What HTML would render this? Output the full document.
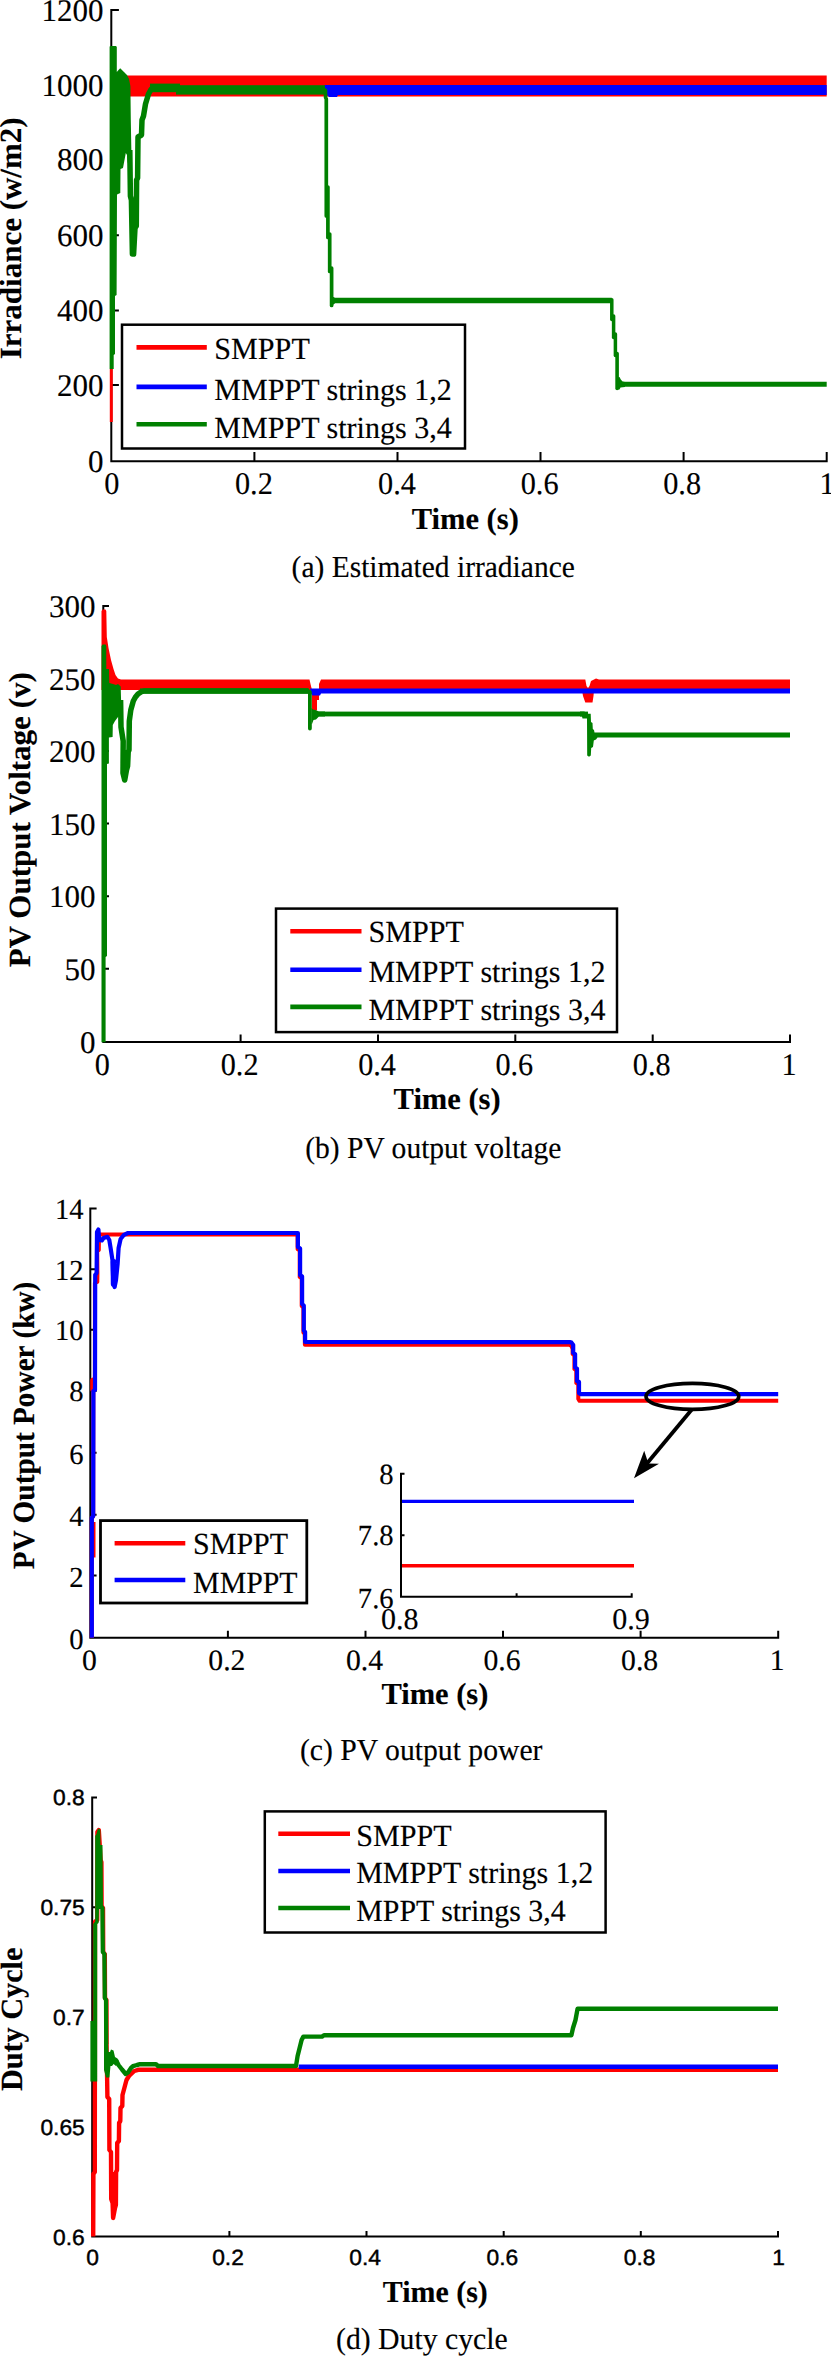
<!DOCTYPE html>
<html lang="en">
<head>
<meta charset="utf-8">
<title>MPPT simulation results</title>
<style>
html,body{margin:0;padding:0;background:#fff;}
svg{display:block;}
text{fill:#000;text-rendering:geometricPrecision;}
</style>
</head>
<body>
<svg width="831" height="2356" viewBox="0 0 831 2356">
<rect x="0" y="0" width="831" height="2356" fill="#fff"/>
<path d="M111.3,9.0 V461.3 H827.7 M254.4,461.3 v-9.2 M397.5,461.3 v-9.2 M540.5,461.3 v-9.2 M683.6,461.3 v-9.2 M826.7,461.3 v-9.2 M111.3,10.0 h7.6 M111.3,85.0 h7.6 M111.3,160.1 h7.6 M111.3,235.3 h7.6 M111.3,310.4 h7.6 M111.3,384.9 h7.6" fill="none" stroke="#000" stroke-width="2"/>
<polygon points="114.0,85.0 114.0,76.0 120.0,75.5 826.7,75.5 826.7,96.5 130.0,96.5 130.0,85.0" fill="#ff0000"/>
<rect x="109.8" y="369.0" width="3.0" height="53.0" fill="#ff0000"/>
<polygon points="324.5,85.0 826.7,85.0 826.7,95.0 338.0,95.0 337.0,97.0 329.0,97.0 327.0,95.0 324.5,95.0" fill="#0000ff"/>
<polygon points="109.6,369.0 109.6,46.5 111.0,45.9 116.0,45.9 116.8,47.0 116.8,72.0 118.5,70.0 120.2,68.2 124.0,72.0 127.0,75.0 129.0,79.0 130.4,86.0 130.8,120.0 131.5,158.0 129.5,160.0 127.7,163.0 127.0,155.0 125.8,153.0 123.0,168.0 120.5,169.0 120.3,193.0 117.0,194.5 116.6,295.0 115.0,296.0 115.0,354.0 113.7,355.0 113.7,369.0" fill="#008000"/>
<polyline points="129.8,150.0 130.4,196.0 131.4,200.0 132.4,254.0 133.6,254.0 135.0,228.0 136.3,226.0 136.6,180.0 137.6,178.0 138.0,137.0 141.5,135.0 142.0,120.0 143.5,116.0 145.5,104.0 148.5,94.0 151.0,89.5 154.0,88.0 175.0,88.0 178.0,89.8 324.5,89.8" fill="none" stroke="#008000" stroke-width="5.5" stroke-linejoin="round" stroke-linecap="butt"/>
<rect x="150.0" y="83.6" width="30.0" height="8.6" fill="#008000"/>
<rect x="176.0" y="85.2" width="149.0" height="9.4" fill="#008000"/>
<polyline points="325.4,90.0 325.6,97.5 326.3,99.0 326.3,216.0" fill="none" stroke="#008000" stroke-width="3.7" stroke-linejoin="round" stroke-linecap="round"/>
<polyline points="327.9,187.0 327.9,237.5" fill="none" stroke="#008000" stroke-width="3.7" stroke-linejoin="round" stroke-linecap="round"/>
<polyline points="329.7,234.0 329.7,271.5" fill="none" stroke="#008000" stroke-width="3.7" stroke-linejoin="round" stroke-linecap="round"/>
<polyline points="331.6,268.0 331.6,305.5" fill="none" stroke="#008000" stroke-width="3.7" stroke-linejoin="round" stroke-linecap="round"/>
<polyline points="331.6,300.6 611.8,300.6" fill="none" stroke="#008000" stroke-width="5.5" stroke-linejoin="round" stroke-linecap="butt"/>
<polygon points="331.0,297.0 333.5,297.0 335.0,298.0 335.0,303.3 333.5,304.5 331.0,305.5" fill="#008000"/>
<polyline points="611.8,299.8 611.8,319.5" fill="none" stroke="#008000" stroke-width="3.5" stroke-linejoin="round" stroke-linecap="round"/>
<polyline points="613.6,316.0 613.6,337.5" fill="none" stroke="#008000" stroke-width="3.5" stroke-linejoin="round" stroke-linecap="round"/>
<polyline points="615.4,334.0 615.4,355.5" fill="none" stroke="#008000" stroke-width="3.5" stroke-linejoin="round" stroke-linecap="round"/>
<polyline points="617.1,353.5 617.1,388.5" fill="none" stroke="#008000" stroke-width="3.6" stroke-linejoin="round" stroke-linecap="round"/>
<polyline points="617.1,384.3 826.7,384.3" fill="none" stroke="#008000" stroke-width="5.0" stroke-linejoin="round" stroke-linecap="butt"/>
<polygon points="617.0,377.5 619.5,377.0 620.8,379.5 622.5,381.5 625.0,382.0 625.0,387.0 620.5,387.5 619.5,389.5 617.0,389.5" fill="#008000"/>
<text transform="translate(103.4 21.4) scale(1 1.015)" font-size="31" text-anchor="end" font-family='"Liberation Serif", serif' stroke="#000" stroke-width="0.15">1200</text>
<text transform="translate(103.4 96.0) scale(1 1.015)" font-size="31" text-anchor="end" font-family='"Liberation Serif", serif' stroke="#000" stroke-width="0.15">1000</text>
<text transform="translate(103.4 170.1) scale(1 1.015)" font-size="31" text-anchor="end" font-family='"Liberation Serif", serif' stroke="#000" stroke-width="0.15">800</text>
<text transform="translate(103.4 246.2) scale(1 1.015)" font-size="31" text-anchor="end" font-family='"Liberation Serif", serif' stroke="#000" stroke-width="0.15">600</text>
<text transform="translate(103.4 321.1) scale(1 1.015)" font-size="31" text-anchor="end" font-family='"Liberation Serif", serif' stroke="#000" stroke-width="0.15">400</text>
<text transform="translate(103.4 396.2) scale(1 1.015)" font-size="31" text-anchor="end" font-family='"Liberation Serif", serif' stroke="#000" stroke-width="0.15">200</text>
<text transform="translate(103.4 472.0) scale(1 1.015)" font-size="31" text-anchor="end" font-family='"Liberation Serif", serif' stroke="#000" stroke-width="0.15">0</text>
<text transform="translate(111.8 494.4) scale(1 1.040)" font-size="30.3" text-anchor="middle" font-family='"Liberation Serif", serif' stroke="#000" stroke-width="0.15">0</text>
<text transform="translate(253.9 494.4) scale(1 1.040)" font-size="30.3" text-anchor="middle" font-family='"Liberation Serif", serif' stroke="#000" stroke-width="0.15">0.2</text>
<text transform="translate(397.0 494.4) scale(1 1.040)" font-size="30.3" text-anchor="middle" font-family='"Liberation Serif", serif' stroke="#000" stroke-width="0.15">0.4</text>
<text transform="translate(539.6 494.4) scale(1 1.040)" font-size="30.3" text-anchor="middle" font-family='"Liberation Serif", serif' stroke="#000" stroke-width="0.15">0.6</text>
<text transform="translate(682.1 494.4) scale(1 1.040)" font-size="30.3" text-anchor="middle" font-family='"Liberation Serif", serif' stroke="#000" stroke-width="0.15">0.8</text>
<text transform="translate(827.2 494.4) scale(1 1.040)" font-size="30.3" text-anchor="middle" font-family='"Liberation Serif", serif' stroke="#000" stroke-width="0.15">1</text>
<text transform="translate(21.3 359.2) rotate(-90)" font-size="30.8" text-anchor="start" font-weight="bold" font-family='"Liberation Serif", serif' stroke="#000" stroke-width="0.15" textLength="241.8" lengthAdjust="spacingAndGlyphs">Irradiance (w/m2)</text>
<text transform="translate(411.8 529.0)" font-size="30.6" text-anchor="start" font-weight="bold" font-family='"Liberation Serif", serif' stroke="#000" stroke-width="0.15" textLength="107.0" lengthAdjust="spacingAndGlyphs">Time (s)</text>
<text transform="translate(291.6 577.0) scale(1 1.040)" font-size="29.4" text-anchor="start" font-family='"Liberation Serif", serif' stroke="#000" stroke-width="0.15" textLength="283.2" lengthAdjust="spacingAndGlyphs">(a) Estimated irradiance</text>
<rect x="122.0" y="324.7" width="343.0" height="123.8" fill="#fff" stroke="#000" stroke-width="2.5"/>
<polyline points="136.5,347.4 206.8,347.4" fill="none" stroke="#ff0000" stroke-width="4.6" stroke-linejoin="round" stroke-linecap="butt"/>
<text transform="translate(214.3 359.0) scale(1 1.040)" font-size="29.5" text-anchor="start" font-family='"Liberation Serif", serif' stroke="#000" stroke-width="0.15" textLength="95.5" lengthAdjust="spacingAndGlyphs">SMPPT</text>
<polyline points="136.5,386.9 206.8,386.9" fill="none" stroke="#0000ff" stroke-width="4.6" stroke-linejoin="round" stroke-linecap="butt"/>
<text transform="translate(214.3 399.6) scale(1 1.040)" font-size="29.5" text-anchor="start" font-family='"Liberation Serif", serif' stroke="#000" stroke-width="0.15" textLength="237.5" lengthAdjust="spacingAndGlyphs">MMPPT strings 1,2</text>
<polyline points="136.5,424.2 206.8,424.2" fill="none" stroke="#008000" stroke-width="4.6" stroke-linejoin="round" stroke-linecap="butt"/>
<text transform="translate(214.3 438.0) scale(1 1.040)" font-size="29.5" text-anchor="start" font-family='"Liberation Serif", serif' stroke="#000" stroke-width="0.15" textLength="237.5" lengthAdjust="spacingAndGlyphs">MMPPT strings 3,4</text>
<path d="M103.3,605.0 V1042.1 H791.0 M240.6,1042.1 v-7.6 M378.0,1042.1 v-7.6 M515.3,1042.1 v-7.6 M652.7,1042.1 v-7.6 M790.0,1042.1 v-7.6 M103.3,606.0 h5.7 M103.3,678.5 h5.7 M103.3,751.1 h5.7 M103.3,823.6 h5.7 M103.3,896.2 h5.7 M103.3,968.7 h5.7" fill="none" stroke="#000" stroke-width="2"/>
<polygon points="101.5,690.0 101.5,611.0 102.5,609.6 105.5,609.6 106.3,611.0 106.8,637.0 108.5,648.0 111.0,660.0 113.5,669.0 115.5,675.0 118.0,678.5 121.0,679.6 309.5,679.6 310.5,684.0 312.0,690.0 312.0,710.5 317.0,710.5 317.0,700.0 319.0,700.0 319.0,684.0 321.0,679.6 585.3,679.6 586.5,686.0 588.0,688.0 589.5,686.0 591.0,681.0 594.0,679.6 596.0,678.6 599.0,679.6 790.0,679.6 790.0,690.0 594.0,690.0 593.5,696.0 592.5,702.6 585.3,702.6 583.0,696.0 582.0,690.0" fill="#ff0000"/>
<polygon points="310.2,688.5 790.0,688.5 790.0,693.6 321.0,693.6 320.0,695.4 312.5,695.4 310.2,693.0" fill="#0000ff"/>
<polygon points="101.5,1042.3 101.5,646.0 102.5,644.6 105.5,644.6 106.3,646.0 106.3,669.0 109.0,669.0 109.3,683.0 113.0,684.0 116.0,685.0 118.0,684.0 120.7,686.5 121.5,716.0 119.5,716.0 118.0,717.0 115.0,721.0 112.8,725.0 112.6,737.0 108.9,737.5 108.9,763.5 107.0,764.0 107.0,956.0 105.6,957.0 105.6,1042.3" fill="#008000"/>
<polyline points="120.6,700.0 121.0,727.0 123.2,741.0 123.0,773.0 124.7,780.0 126.5,770.0 127.6,766.0 128.2,752.0 129.0,750.0 129.3,721.0 130.8,710.0 133.3,701.0 135.5,697.0 138.0,694.0 141.0,692.0 144.0,691.0 308.0,691.0" fill="none" stroke="#008000" stroke-width="5.5" stroke-linejoin="round" stroke-linecap="butt"/>
<rect x="140.0" y="688.4" width="169.0" height="5.2" fill="#008000"/>
<polyline points="308.0,691.0 309.9,692.0 309.9,728.5" fill="none" stroke="#008000" stroke-width="3.8" stroke-linejoin="round" stroke-linecap="round"/>
<polygon points="311.5,708.0 313.0,709.5 315.5,710.0 318.9,711.6 325.0,711.6 325.0,716.4 318.9,716.4 316.0,719.5 313.5,720.0 312.0,724.0 311.5,724.0" fill="#008000"/>
<rect x="318.0" y="711.6" width="270.0" height="4.8" fill="#008000"/>
<polygon points="584.5,711.6 586.0,713.8 590.7,713.8 591.0,722.0 592.5,723.0 592.8,729.0 594.0,730.0 594.5,732.6 790.0,732.6 790.0,737.6 597.5,737.6 596.0,739.5 593.8,740.5 593.0,747.0 591.2,748.0 590.8,755.5 589.0,756.8 587.2,755.5 587.0,718.5 582.5,718.5 582.0,716.4 580.0,716.4 580.0,711.6" fill="#008000"/>
<text transform="translate(95.6 617.4) scale(1 1.015)" font-size="31" text-anchor="end" font-family='"Liberation Serif", serif' stroke="#000" stroke-width="0.15">300</text>
<text transform="translate(95.6 689.7) scale(1 1.015)" font-size="31" text-anchor="end" font-family='"Liberation Serif", serif' stroke="#000" stroke-width="0.15">250</text>
<text transform="translate(95.6 761.6) scale(1 1.015)" font-size="31" text-anchor="end" font-family='"Liberation Serif", serif' stroke="#000" stroke-width="0.15">200</text>
<text transform="translate(95.6 835.3) scale(1 1.015)" font-size="31" text-anchor="end" font-family='"Liberation Serif", serif' stroke="#000" stroke-width="0.15">150</text>
<text transform="translate(95.6 907.3) scale(1 1.015)" font-size="31" text-anchor="end" font-family='"Liberation Serif", serif' stroke="#000" stroke-width="0.15">100</text>
<text transform="translate(95.6 979.6) scale(1 1.015)" font-size="31" text-anchor="end" font-family='"Liberation Serif", serif' stroke="#000" stroke-width="0.15">50</text>
<text transform="translate(95.6 1052.9) scale(1 1.015)" font-size="31" text-anchor="end" font-family='"Liberation Serif", serif' stroke="#000" stroke-width="0.15">0</text>
<text transform="translate(102.3 1074.5) scale(1 1.040)" font-size="30.2" text-anchor="middle" font-family='"Liberation Serif", serif' stroke="#000" stroke-width="0.15">0</text>
<text transform="translate(239.6 1074.5) scale(1 1.040)" font-size="30.2" text-anchor="middle" font-family='"Liberation Serif", serif' stroke="#000" stroke-width="0.15">0.2</text>
<text transform="translate(377.0 1074.5) scale(1 1.040)" font-size="30.2" text-anchor="middle" font-family='"Liberation Serif", serif' stroke="#000" stroke-width="0.15">0.4</text>
<text transform="translate(514.3 1074.5) scale(1 1.040)" font-size="30.2" text-anchor="middle" font-family='"Liberation Serif", serif' stroke="#000" stroke-width="0.15">0.6</text>
<text transform="translate(651.7 1074.5) scale(1 1.040)" font-size="30.2" text-anchor="middle" font-family='"Liberation Serif", serif' stroke="#000" stroke-width="0.15">0.8</text>
<text transform="translate(789.0 1074.5) scale(1 1.040)" font-size="30.2" text-anchor="middle" font-family='"Liberation Serif", serif' stroke="#000" stroke-width="0.15">1</text>
<text transform="translate(29.9 967.2) rotate(-90)" font-size="30.8" text-anchor="start" font-weight="bold" font-family='"Liberation Serif", serif' stroke="#000" stroke-width="0.15" textLength="295.0" lengthAdjust="spacingAndGlyphs">PV Output Voltage (v)</text>
<text transform="translate(393.6 1109.1)" font-size="30.6" text-anchor="start" font-weight="bold" font-family='"Liberation Serif", serif' stroke="#000" stroke-width="0.15" textLength="107.0" lengthAdjust="spacingAndGlyphs">Time (s)</text>
<text transform="translate(305.2 1158.2) scale(1 1.040)" font-size="29.4" text-anchor="start" font-family='"Liberation Serif", serif' stroke="#000" stroke-width="0.15" textLength="256.2" lengthAdjust="spacingAndGlyphs">(b) PV output voltage</text>
<rect x="276.0" y="908.6" width="341.0" height="123.5" fill="#fff" stroke="#000" stroke-width="2.5"/>
<polyline points="290.3,931.2 361.5,931.2" fill="none" stroke="#ff0000" stroke-width="4.6" stroke-linejoin="round" stroke-linecap="butt"/>
<text transform="translate(368.4 941.9) scale(1 1.040)" font-size="29.5" text-anchor="start" font-family='"Liberation Serif", serif' stroke="#000" stroke-width="0.15" textLength="95.5" lengthAdjust="spacingAndGlyphs">SMPPT</text>
<polyline points="290.3,969.7 361.5,969.7" fill="none" stroke="#0000ff" stroke-width="4.6" stroke-linejoin="round" stroke-linecap="butt"/>
<text transform="translate(368.4 981.5) scale(1 1.040)" font-size="29.5" text-anchor="start" font-family='"Liberation Serif", serif' stroke="#000" stroke-width="0.15" textLength="237.0" lengthAdjust="spacingAndGlyphs">MMPPT strings 1,2</text>
<polyline points="290.3,1006.9 361.5,1006.9" fill="none" stroke="#008000" stroke-width="4.6" stroke-linejoin="round" stroke-linecap="butt"/>
<text transform="translate(368.4 1019.5) scale(1 1.040)" font-size="29.5" text-anchor="start" font-family='"Liberation Serif", serif' stroke="#000" stroke-width="0.15" textLength="237.0" lengthAdjust="spacingAndGlyphs">MMPPT strings 3,4</text>
<path d="M90.3,1207.4 V1637.7 H779.2 M227.9,1637.7 v-7.0 M365.5,1637.7 v-7.0 M503.0,1637.7 v-7.0 M640.6,1637.7 v-7.0 M778.2,1637.7 v-7.0 M90.3,1208.4 h6.3 M90.3,1269.2 h6.3 M90.3,1329.7 h6.3 M90.3,1391.1 h6.3 M90.3,1452.7 h6.3 M90.3,1514.7 h6.3 M90.3,1575.6 h6.3" fill="none" stroke="#000" stroke-width="2"/>
<polyline points="94.2,1522.0 94.2,1557.5" fill="none" stroke="#ff0000" stroke-width="2.6" stroke-linejoin="round" stroke-linecap="butt"/>
<polyline points="91.8,1637.7 91.8,1518.0 93.2,1516.0 93.3,1391.0 92.2,1390.0 92.2,1380.0 94.9,1379.0 94.9,1283.0 97.3,1282.0 97.4,1274.0 97.2,1251.0 98.8,1250.0 99.0,1234.6 297.6,1234.6 297.6,1249.0 299.7,1250.5 299.7,1277.0 301.7,1278.5 301.7,1306.0 303.4,1307.5 303.4,1332.5 304.7,1334.0 304.9,1344.8 569.5,1344.8 571.5,1346.0 572.6,1349.0 572.6,1354.0 574.4,1355.5 574.4,1369.0 576.3,1370.5 576.3,1383.0 578.3,1384.5 578.3,1399.0 579.5,1400.8 778.2,1400.8" fill="none" stroke="#ff0000" stroke-width="4" stroke-linejoin="round" stroke-linecap="butt"/>
<polyline points="91.8,1637.7 91.8,1518.0 93.2,1516.0 93.4,1391.0 95.0,1390.0 95.2,1275.0 96.6,1273.0 97.0,1232.0 98.4,1229.5 99.3,1240.0 101.8,1240.5 103.5,1238.0 107.4,1236.8 109.3,1240.0 110.6,1248.0 112.6,1261.0 113.2,1280.0 114.6,1287.0 116.0,1280.0 117.6,1264.0 118.6,1248.0 120.6,1239.0 124.0,1234.8 128.0,1233.0 297.9,1233.0 297.9,1247.0 300.1,1248.5 300.1,1275.0 302.1,1276.5 302.1,1304.0 303.8,1305.5 303.8,1330.6 305.1,1332.0 305.1,1342.0 569.8,1342.1 571.5,1342.6 573.2,1345.0 573.2,1353.0 575.1,1354.0 575.1,1367.5 577.0,1368.5 577.0,1381.0 579.0,1382.0 579.0,1393.0 580.4,1394.1 778.2,1394.1" fill="none" stroke="#0000ff" stroke-width="4.2" stroke-linejoin="round" stroke-linecap="butt"/>
<polyline points="113.6,1262.0 113.8,1284.0" fill="none" stroke="#0000ff" stroke-width="6" stroke-linejoin="round" stroke-linecap="round"/>
<text transform="translate(83.5 1218.7) scale(1 1.020)" font-size="28.6" text-anchor="end" font-family='"Liberation Serif", serif' stroke="#000" stroke-width="0.15">14</text>
<text transform="translate(83.5 1279.8) scale(1 1.020)" font-size="28.6" text-anchor="end" font-family='"Liberation Serif", serif' stroke="#000" stroke-width="0.15">12</text>
<text transform="translate(83.5 1340.1) scale(1 1.020)" font-size="28.6" text-anchor="end" font-family='"Liberation Serif", serif' stroke="#000" stroke-width="0.15">10</text>
<text transform="translate(83.5 1401.2) scale(1 1.020)" font-size="28.6" text-anchor="end" font-family='"Liberation Serif", serif' stroke="#000" stroke-width="0.15">8</text>
<text transform="translate(83.5 1463.9) scale(1 1.020)" font-size="28.6" text-anchor="end" font-family='"Liberation Serif", serif' stroke="#000" stroke-width="0.15">6</text>
<text transform="translate(83.5 1525.9) scale(1 1.020)" font-size="28.6" text-anchor="end" font-family='"Liberation Serif", serif' stroke="#000" stroke-width="0.15">4</text>
<text transform="translate(83.5 1587.1) scale(1 1.020)" font-size="28.6" text-anchor="end" font-family='"Liberation Serif", serif' stroke="#000" stroke-width="0.15">2</text>
<text transform="translate(83.5 1648.9) scale(1 1.020)" font-size="28.6" text-anchor="end" font-family='"Liberation Serif", serif' stroke="#000" stroke-width="0.15">0</text>
<text transform="translate(89.3 1670.4)" font-size="29.7" text-anchor="middle" font-family='"Liberation Serif", serif' stroke="#000" stroke-width="0.15">0</text>
<text transform="translate(226.9 1670.4)" font-size="29.7" text-anchor="middle" font-family='"Liberation Serif", serif' stroke="#000" stroke-width="0.15">0.2</text>
<text transform="translate(364.5 1670.4)" font-size="29.7" text-anchor="middle" font-family='"Liberation Serif", serif' stroke="#000" stroke-width="0.15">0.4</text>
<text transform="translate(502.0 1670.4)" font-size="29.7" text-anchor="middle" font-family='"Liberation Serif", serif' stroke="#000" stroke-width="0.15">0.6</text>
<text transform="translate(639.6 1670.4)" font-size="29.7" text-anchor="middle" font-family='"Liberation Serif", serif' stroke="#000" stroke-width="0.15">0.8</text>
<text transform="translate(777.2 1670.4)" font-size="29.7" text-anchor="middle" font-family='"Liberation Serif", serif' stroke="#000" stroke-width="0.15">1</text>
<text transform="translate(34.2 1569.2) rotate(-90)" font-size="30.8" text-anchor="start" font-weight="bold" font-family='"Liberation Serif", serif' stroke="#000" stroke-width="0.15" textLength="287.5" lengthAdjust="spacingAndGlyphs">PV Output Power (kw)</text>
<text transform="translate(381.4 1704.3)" font-size="30.6" text-anchor="start" font-weight="bold" font-family='"Liberation Serif", serif' stroke="#000" stroke-width="0.15" textLength="107.0" lengthAdjust="spacingAndGlyphs">Time (s)</text>
<text transform="translate(299.9 1760.2) scale(1 1.040)" font-size="29.4" text-anchor="start" font-family='"Liberation Serif", serif' stroke="#000" stroke-width="0.15" textLength="242.6" lengthAdjust="spacingAndGlyphs">(c) PV output power</text>
<rect x="100.5" y="1520.6" width="206.3" height="82.4" fill="#fff" stroke="#000" stroke-width="2.8"/>
<polyline points="114.6,1543.2 185.3,1543.2" fill="none" stroke="#ff0000" stroke-width="4.6" stroke-linejoin="round" stroke-linecap="butt"/>
<text transform="translate(193.1 1554.4) scale(1 1.040)" font-size="29.5" text-anchor="start" font-family='"Liberation Serif", serif' stroke="#000" stroke-width="0.15" textLength="95.0" lengthAdjust="spacingAndGlyphs">SMPPT</text>
<polyline points="114.6,1580.0 185.3,1580.0" fill="none" stroke="#0000ff" stroke-width="4.6" stroke-linejoin="round" stroke-linecap="butt"/>
<text transform="translate(193.1 1593.3) scale(1 1.040)" font-size="29.5" text-anchor="start" font-family='"Liberation Serif", serif' stroke="#000" stroke-width="0.15" textLength="104.5" lengthAdjust="spacingAndGlyphs">MMPPT</text>
<ellipse cx="692.4" cy="1396.4" rx="46.4" ry="13" fill="none" stroke="#000" stroke-width="3.6"/>
<polyline points="691.8,1409.5 646.5,1464.0" fill="none" stroke="#000" stroke-width="3.8" stroke-linejoin="round" stroke-linecap="butt"/>
<polygon points="634.0,1478.2 644.2,1450.8 648.4,1463.4 659.0,1463.8" fill="#000"/>
<polyline points="401.0,1501.4 634.0,1501.4" fill="none" stroke="#0000ff" stroke-width="3.4" stroke-linejoin="round" stroke-linecap="butt"/>
<polyline points="401.0,1565.7 634.0,1565.7" fill="none" stroke="#ff0000" stroke-width="3.4" stroke-linejoin="round" stroke-linecap="butt"/>
<path d="M401.0,1472.7 V1596.7 H632.7 M516.6,1596.7 v-3.5 M631.7,1596.7 v-3.5 M401.0,1473.7 h3.5 M401.0,1535.2 h3.5" fill="none" stroke="#000" stroke-width="2"/>
<text transform="translate(393.6 1484.1) scale(1 1.020)" font-size="28.6" text-anchor="end" font-family='"Liberation Serif", serif' stroke="#000" stroke-width="0.15">8</text>
<text transform="translate(393.6 1545.4) scale(1 1.020)" font-size="28.6" text-anchor="end" font-family='"Liberation Serif", serif' stroke="#000" stroke-width="0.15">7.8</text>
<text transform="translate(393.6 1608.1) scale(1 1.020)" font-size="28.6" text-anchor="end" font-family='"Liberation Serif", serif' stroke="#000" stroke-width="0.15">7.6</text>
<text transform="translate(399.8 1628.5)" font-size="30" text-anchor="middle" font-family='"Liberation Serif", serif' stroke="#000" stroke-width="0.15">0.8</text>
<text transform="translate(631.0 1628.5)" font-size="30" text-anchor="middle" font-family='"Liberation Serif", serif' stroke="#000" stroke-width="0.15">0.9</text>
<path d="M92.2,1796.4 V2236.5 H779.0 M229.4,2236.5 v-5.4 M366.5,2236.5 v-5.4 M503.7,2236.5 v-5.4 M640.8,2236.5 v-5.4 M778.0,2236.5 v-5.4 M92.2,1797.4 h4.8 M92.2,1907.2 h4.8 M92.2,2017.0 h4.8 M92.2,2126.7 h4.8" fill="none" stroke="#000" stroke-width="2"/>
<polyline points="93.2,2236.5 93.4,2174.0 94.8,2172.0 95.0,1922.0 97.2,1920.0 97.4,1832.0 98.8,1830.0 100.6,1860.0 101.4,1862.0 101.6,1906.0 103.0,1908.0 103.2,1952.0 104.8,1954.0 105.0,1998.0 106.4,2000.0 106.6,2050.0 107.1,2077.0 107.4,2097.0 109.2,2099.0 109.4,2150.0 111.0,2152.0 111.2,2199.0 112.6,2203.0 113.1,2218.0 114.9,2208.5 115.9,2205.0 116.1,2172.0 117.0,2170.0 117.2,2143.0 118.9,2141.0 119.1,2123.0 120.3,2121.0 120.5,2108.0 122.3,2106.0 122.5,2095.0 124.9,2086.0 126.5,2080.0 129.0,2076.0 134.3,2071.0 138.2,2069.8 778.0,2069.8" fill="none" stroke="#ff0000" stroke-width="4.4" stroke-linejoin="round" stroke-linecap="butt"/>
<polygon points="111.2,2172.0 116.0,2172.0 116.0,2206.0 113.1,2219.0 112.2,2208.0 111.2,2200.0" fill="#ff0000"/>
<polyline points="298.7,2066.7 778.0,2066.7" fill="none" stroke="#0000ff" stroke-width="4.4" stroke-linejoin="round" stroke-linecap="butt"/>
<polygon points="90.4,2081.5 90.4,2021.0 93.2,2021.0 93.2,1924.0 95.2,1921.5 95.2,1836.0 96.5,1834.0 97.5,1830.0 98.9,1828.3 100.3,1830.0 100.6,1859.0 102.0,1860.0 102.6,1906.0 102.6,1909.0 99.0,1909.0 98.6,1923.0 97.2,1924.0 97.2,2081.5" fill="#008000"/>
<polyline points="100.4,1845.0 100.8,1906.0 102.4,1908.0 102.8,1952.0 104.4,1954.0 104.8,1998.0 106.0,2000.0 106.2,2044.0" fill="none" stroke="#008000" stroke-width="4.2" stroke-linejoin="round" stroke-linecap="butt"/>
<polygon points="104.0,2040.0 108.0,2042.0 108.5,2052.0 110.0,2052.0 111.0,2049.5 113.5,2050.5 115.0,2057.0 117.5,2058.5 119.0,2062.0 116.0,2066.0 113.6,2064.0 112.0,2066.0 110.5,2066.0 109.4,2077.6 106.0,2077.6 104.0,2070.0" fill="#008000"/>
<polyline points="116.0,2060.0 118.5,2065.0 122.0,2069.5 125.7,2074.0 128.0,2072.5 131.0,2068.0 133.0,2066.2 137.0,2065.0 140.0,2064.2 156.0,2064.2 158.0,2066.0 296.0,2066.0 297.6,2056.0 299.6,2048.0 301.6,2040.0 303.4,2036.6 322.0,2036.6 324.0,2035.2 571.4,2035.2 573.0,2028.0 575.5,2020.0 577.6,2008.7 778.0,2008.7" fill="none" stroke="#008000" stroke-width="4.4" stroke-linejoin="round" stroke-linecap="butt"/>
<text transform="translate(84.8 1805.4) scale(1 0.967)" font-size="22.8" text-anchor="end" font-family='"Liberation Sans", sans-serif' stroke="#000" stroke-width="0.45">0.8</text>
<text transform="translate(84.8 1915.2) scale(1 0.967)" font-size="22.8" text-anchor="end" font-family='"Liberation Sans", sans-serif' stroke="#000" stroke-width="0.45">0.75</text>
<text transform="translate(84.8 2025.0) scale(1 0.967)" font-size="22.8" text-anchor="end" font-family='"Liberation Sans", sans-serif' stroke="#000" stroke-width="0.45">0.7</text>
<text transform="translate(84.8 2134.7) scale(1 0.967)" font-size="22.8" text-anchor="end" font-family='"Liberation Sans", sans-serif' stroke="#000" stroke-width="0.45">0.65</text>
<text transform="translate(84.8 2244.5) scale(1 0.967)" font-size="22.8" text-anchor="end" font-family='"Liberation Sans", sans-serif' stroke="#000" stroke-width="0.45">0.6</text>
<text transform="translate(92.5 2265.2) scale(1 0.967)" font-size="22.8" text-anchor="middle" font-family='"Liberation Sans", sans-serif' stroke="#000" stroke-width="0.45">0</text>
<text transform="translate(228.0 2265.2) scale(1 0.967)" font-size="22.8" text-anchor="middle" font-family='"Liberation Sans", sans-serif' stroke="#000" stroke-width="0.45">0.2</text>
<text transform="translate(365.1 2265.2) scale(1 0.967)" font-size="22.8" text-anchor="middle" font-family='"Liberation Sans", sans-serif' stroke="#000" stroke-width="0.45">0.4</text>
<text transform="translate(502.3 2265.2) scale(1 0.967)" font-size="22.8" text-anchor="middle" font-family='"Liberation Sans", sans-serif' stroke="#000" stroke-width="0.45">0.6</text>
<text transform="translate(639.6 2265.2) scale(1 0.967)" font-size="22.8" text-anchor="middle" font-family='"Liberation Sans", sans-serif' stroke="#000" stroke-width="0.45">0.8</text>
<text transform="translate(778.6 2265.2) scale(1 0.967)" font-size="22.8" text-anchor="middle" font-family='"Liberation Sans", sans-serif' stroke="#000" stroke-width="0.45">1</text>
<text transform="translate(22.1 2091.1) rotate(-90)" font-size="30.8" text-anchor="start" font-weight="bold" font-family='"Liberation Serif", serif' stroke="#000" stroke-width="0.15" textLength="143.5" lengthAdjust="spacingAndGlyphs">Duty Cycle</text>
<text transform="translate(382.8 2302.0)" font-size="30.6" text-anchor="start" font-weight="bold" font-family='"Liberation Serif", serif' stroke="#000" stroke-width="0.15" textLength="105.0" lengthAdjust="spacingAndGlyphs">Time (s)</text>
<text transform="translate(336.0 2349.0) scale(1 1.040)" font-size="29.4" text-anchor="start" font-family='"Liberation Serif", serif' stroke="#000" stroke-width="0.15" textLength="171.8" lengthAdjust="spacingAndGlyphs">(d) Duty cycle</text>
<rect x="264.8" y="1811.4" width="340.8" height="121.1" fill="#fff" stroke="#000" stroke-width="2.5"/>
<polyline points="278.3,1833.8 350.0,1833.8" fill="none" stroke="#ff0000" stroke-width="4.6" stroke-linejoin="round" stroke-linecap="butt"/>
<text transform="translate(356.2 1845.6) scale(1 1.040)" font-size="29.5" text-anchor="start" font-family='"Liberation Serif", serif' stroke="#000" stroke-width="0.15" textLength="95.5" lengthAdjust="spacingAndGlyphs">SMPPT</text>
<polyline points="278.3,1871.0 350.0,1871.0" fill="none" stroke="#0000ff" stroke-width="4.6" stroke-linejoin="round" stroke-linecap="butt"/>
<text transform="translate(356.2 1882.7) scale(1 1.040)" font-size="29.5" text-anchor="start" font-family='"Liberation Serif", serif' stroke="#000" stroke-width="0.15" textLength="237.0" lengthAdjust="spacingAndGlyphs">MMPPT strings 1,2</text>
<polyline points="278.3,1908.0 350.0,1908.0" fill="none" stroke="#008000" stroke-width="4.6" stroke-linejoin="round" stroke-linecap="butt"/>
<text transform="translate(356.2 1921.1) scale(1 1.040)" font-size="29.5" text-anchor="start" font-family='"Liberation Serif", serif' stroke="#000" stroke-width="0.15" textLength="209.5" lengthAdjust="spacingAndGlyphs">MPPT strings 3,4</text>
</svg>
</body>
</html>
